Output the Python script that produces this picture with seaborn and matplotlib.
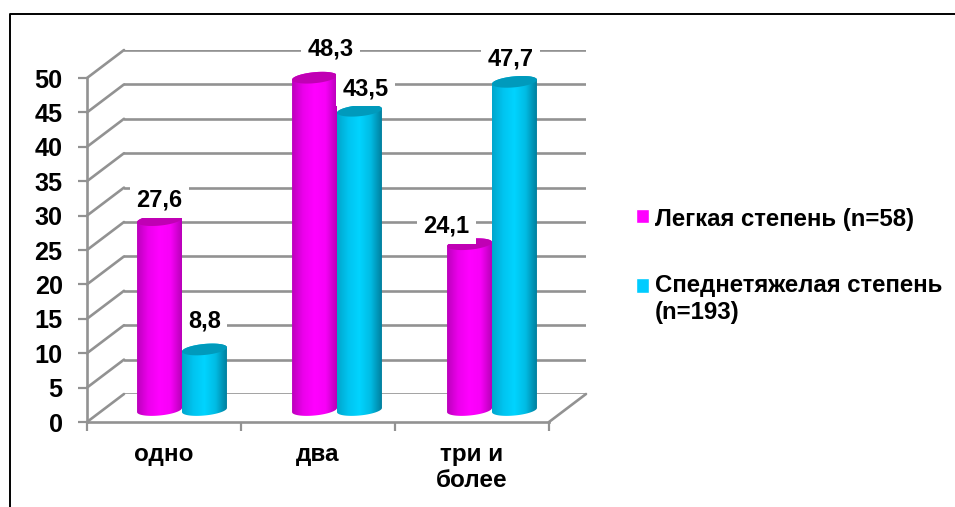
import numpy as np
import pandas as pd
import matplotlib
matplotlib.use("Agg")
import matplotlib.pyplot as plt
from matplotlib.colors import LinearSegmentedColormap
from matplotlib.lines import Line2D
from matplotlib.patches import ConnectionPatch, PathPatch
from matplotlib.path import Path
import seaborn as sns

categories = ["одно", "два", "три и\nболее"]
series_names = ["Легкая степень (n=58)", "Спеднетяжелая степень\n(n=193)"]
mild_values = [27.6, 48.3, 24.1]
moderate_values = [8.8, 43.5, 47.7]
y_ticks = [0, 5, 10, 15, 20, 25, 30, 35, 40, 45, 50]

# pixel nudges of the value labels from the top of each bar
label_nudges = [[(0, 20), (0, 28)], [(16, 29), (6, 22)], [(-23, 18), (-4, 23)]]

W, H = 955, 507
GRAY = "#929292"

sns.set_theme(style="white")
plt.rcParams["font.family"] = ["Liberation Sans", "DejaVu Sans"]
plt.rcParams["font.weight"] = "bold"

df = pd.DataFrame({
    "cat": categories * 2,
    "series": [series_names[0]] * 3 + [series_names[1]] * 3,
    "value": mild_values + moderate_values,
})

fig = plt.figure(figsize=(W / 100, H / 100), dpi=100)


def make_axes(left, right, y0, y50, z):
    a = fig.add_axes([left / W, 1 - y0 / H, (right - left) / W, (y0 - y50) / H])
    a.set_xlim(-0.5, 2.5)
    a.set_ylim(0, 50)
    a.set_zorder(z)
    a.patch.set_alpha(0)
    return a


# back wall, front axis and the plane the cylinders stand in
ax_back = make_axes(124, 586, 394, 50, 0)
ax_front = make_axes(87, 549, 422, 78, 2)
# this one runs a little below zero so the rounded bases are not cut off
ax = make_axes(104.5, 569.5, 410 + 5 * 6.88, 66, 3)

ax_back.set_xticks([])
ax_back.set_yticks(y_ticks)
ax_back.tick_params(left=False, labelleft=False)
ax_back.grid(axis="y", color=GRAY, lw=1.9)
sns.despine(ax=ax_back, left=True, bottom=True)

ax_front.set_xticks([-0.5, 0.5, 1.5, 2.5])
ax_front.set_xticklabels([])
ax_front.set_xticks([0, 1, 2], labels=categories, minor=True)
ax_front.set_yticks(y_ticks)
ax_front.tick_params(axis="both", which="major", color=GRAY, width=1.6, length=6.5,
                     labelsize=18.2, left=True, bottom=True)
ax_front.tick_params(axis="y", pad=11)
ax_front.tick_params(axis="x", which="minor", length=0, pad=15, labelsize=17.5)
for lab in ax_front.get_xticklabels(minor=True) + ax_front.get_yticklabels():
    lab.set_fontweight("bold")
    lab.set_color("black")
sns.despine(ax=ax_front)
for s in ["left", "bottom"]:
    ax_front.spines[s].set_color(GRAY)
    ax_front.spines[s].set_linewidth(1.9)

# side wall and floor edges
for v in y_ticks:
    fig.add_artist(ConnectionPatch((-0.5, v), (-0.5, v), coordsA=ax_front.transData,
                                   coordsB=ax_back.transData, color=GRAY, lw=1.9, zorder=1))
fig.add_artist(ConnectionPatch((2.5, 0), (2.5, 0), coordsA=ax_front.transData,
                               coordsB=ax_back.transData, color=GRAY, lw=1.9, zorder=1))

sns.barplot(data=df, x="cat", y="value", hue="series", hue_order=series_names,
            order=categories, palette=["#FF00FF", "#00CCFF"], width=0.58, gap=0,
            saturation=1, ax=ax)
handles, labels = ax.get_legend_handles_labels()
ax.get_legend().remove()

ramps = [
    LinearSegmentedColormap.from_list("m", ["#BC00BC", "#EC00EC", "#FF00FF", "#F800F8", "#B800B8"]),
    LinearSegmentedColormap.from_list("c", ["#00A6CC", "#00C4F0", "#00D4FF", "#00BCE4", "#007F9E"]),
]
cap_colors = ["#C000B4", "#009ABC"]
ramp = np.linspace(0, 1, 128).reshape(1, -1)
ry, tilt = 0.8, 0.3

# cylinders: a gradient clipped to the outline of each bar, plus the top cap
for g in range(3):
    for s, container in enumerate(ax.containers):
        bar = container[g]
        x0, w, h = bar.get_x(), bar.get_width(), bar.get_height()
        bar.set_alpha(0)
        cx, rx = x0 + w / 2, w / 2
        t = np.linspace(np.pi, 2 * np.pi, 40)
        low = np.c_[cx + rx * np.cos(t), ry * np.sin(t) + tilt * np.cos(t)]
        t2 = np.linspace(0, np.pi, 40)
        up = np.c_[cx + rx * np.cos(t2), h + ry * np.sin(t2) + tilt * np.cos(t2)]
        outline = np.vstack([low, up, low[:1]])
        z = 3 + g + s * 0.1
        im = ax.imshow(ramp, cmap=ramps[s], aspect="auto", zorder=z,
                       extent=(x0, x0 + w, -3, h + 3))
        clip = PathPatch(Path(outline), transform=ax.transData, fc="none", ec="none")
        ax.add_patch(clip)
        im.set_clip_path(clip)
        tt = np.linspace(0, 2 * np.pi, 80)
        cap = np.c_[cx + rx * np.cos(tt), h + ry * np.sin(tt) + tilt * np.cos(tt)]
        ax.fill(cap[:, 0], cap[:, 1], color=cap_colors[s], lw=0, zorder=z + 0.01)
        dx, dy = label_nudges[g][s]
        ax.annotate(f"{h:.1f}".replace(".", ","), (cx, h), xytext=(dx * 0.72, dy * 0.72),
                    textcoords="offset points", ha="center", va="center", fontsize=17,
                    fontweight="bold", color="black", annotation_clip=False, zorder=20,
                    bbox=dict(fc="white", ec="none", pad=4.5))

ax.set_xlim(-0.5, 2.5)
ax.set_ylim(-5, 50)
ax.axis("off")

leg = fig.legend(handles, labels, loc="upper left", bbox_to_anchor=(636 / W, 1 - 208 / H),
                 frameon=False, handlelength=0.54, handleheight=0.54, labelcolor="black",
                 handletextpad=0.24, labelspacing=1.8, borderpad=0, borderaxespad=0,
                 prop=dict(weight="bold", size=17.3))
# keep the squares level with the first line of each entry
for handle, lift in zip(leg.legend_handles, [1.0, 10.0]):
    handle.set_y(handle.get_y() + lift)

# thin black frame of the source slide
fig.add_artist(Line2D([9.5 / W, 9.5 / W, 1], [0, 1 - 14 / H, 1 - 14 / H], color="black", lw=1.4))

fig.savefig("out.png", dpi=100)
